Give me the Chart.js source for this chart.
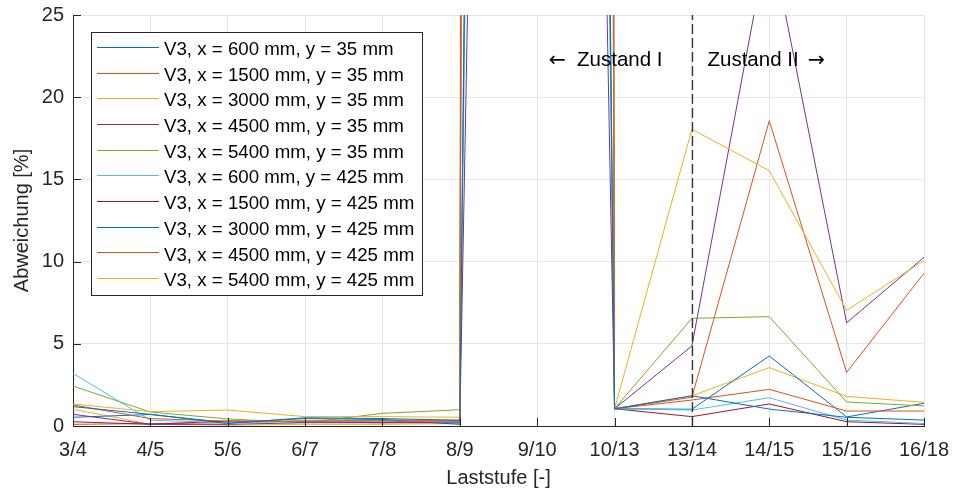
<!DOCTYPE html>
<html>
<head>
<meta charset="utf-8">
<script src="https://cdn.jsdelivr.net/npm/chart.js@4/dist/chart.umd.min.js"></script>
<style>
  html, body { margin: 0; padding: 0; background: #fff; }
  #wrap { width: 954px; height: 495px; }
</style>
</head>
<body>
<div id="wrap"><canvas id="c" width="954" height="495"></canvas></div>
<script>
// Abweichung je Laststufe, Messstellen V3
const LASTSTUFEN = ["3/4", "4/5", "5/6", "6/7", "7/8", "8/9", "9/10",
                    "10/13", "13/14", "14/15", "15/16", "16/18"];
const POS_X = [600, 1500, 3000, 4500, 5400, 600, 1500, 3000, 4500, 5400];
const POS_Y = [35, 35, 35, 35, 35, 425, 425, 425, 425, 425];
const COLORS = ["#0072BD", "#D95319", "#EDB120", "#7E2F8E", "#77AC30",
                "#4DBEEE", "#A2142F", "#0072BD", "#D95319", "#EDB120"];

// Werte in % (9/10 liegt weit ausserhalb der Achse)
const S1  = [1.18, 0.71, 0.15, 0.50, 0.45, 0.35,  420, 1.05,  1.84,  1.03, 0.53,  0.36];
const S2  = [1.28, 0.45, 0.30, 0.30, 0.30, 0.30, 2500, 1.05,  1.58,  2.23, 0.91,  0.91];
const S3  = [1.34, 0.87, 0.97, 0.57, 0.57, 0.53, 3000, 1.05, 18.05, 15.53, 7.04, 10.06];
const S4  = [0.71, 0.10, 0.10, 0.20, 0.20, 0.25,  250, 1.05,  4.87, 30.00, 6.28, 10.26];
const S5  = [2.43, 0.85, 0.43, 0.20, 0.77, 0.99, 2000, 1.05,  6.55,  6.65, 1.46,  1.22];
const S6  = [3.20, 0.35, 0.20, 0.30, 0.30, 0.20,  380, 1.05,  0.97,  1.72, 0.36,  0.15];
const S7  = [0.26, 0.10, 0.30, 0.25, 0.20, 0.20, 1500, 1.05,  0.57,  1.34, 0.26,  0.10];
const S8  = [0.53, 0.70, 0.20, 0.45, 0.40, 0.10,  450, 1.05,  1.02,  4.26, 0.55,  1.38];
const S9  = [0.10, 0.15, 0.20, 0.30, 0.35, 0.35, 2200, 1.05,  1.75, 18.57, 3.26,  9.29];
const S10 = [1.02, 0.10, 0.05, 0.10, 0.10, 0.15, 1800, 1.05,  1.84,  3.55, 1.80,  1.44];
const SERIES = [S1, S2, S3, S4, S5, S6, S7, S8, S9, S10];

const GRENZE = "13/14";          // Übergang Zustand I -> II
const FONT = "'Liberation Sans', Arial, Helvetica, sans-serif";
const AXIS = "#262626";

const datasets = SERIES.map((d, i) => ({
  label: `V3, x = ${POS_X[i]} mm, y = ${POS_Y[i]} mm`,
  data: d, borderColor: COLORS[i], backgroundColor: COLORS[i],
  borderWidth: 1, pointRadius: 0, tension: 0, fill: false,
}));

// inward tick marks like the MATLAB axes
const innerTicks = {
  id: "innerTicks",
  afterDraw(chart) {
    const { ctx, chartArea: a, scales: { x, y } } = chart;
    ctx.save();
    ctx.strokeStyle = AXIS;
    ctx.lineWidth = 1;
    ctx.beginPath();
    x.ticks.forEach((_t, i) => {
      const px = Math.round(x.getPixelForTick(i)) + 0.5;
      ctx.moveTo(px, a.bottom); ctx.lineTo(px, a.bottom - 8);
    });
    y.ticks.forEach((_t, i) => {
      const py = Math.round(y.getPixelForTick(i)) + 0.5;
      ctx.moveTo(a.left, py); ctx.lineTo(a.left + 8, py);
    });
    ctx.stroke();
    ctx.restore();
  },
};

// dashed boundary and the two state labels
const zustand = {
  id: "zustand",
  afterDatasetsDraw(chart) {
    const { ctx, chartArea: a, scales: { x, y } } = chart;
    const px = Math.round(x.getPixelForValue(LASTSTUFEN.indexOf(GRENZE))) + 0.5;
    ctx.save();
    ctx.strokeStyle = "#333";
    ctx.lineWidth = 1.3;
    ctx.setLineDash([10, 4]);
    ctx.beginPath();
    ctx.moveTo(px, a.bottom); ctx.lineTo(px, a.top);
    ctx.stroke();
    ctx.setLineDash([]);
    ctx.fillStyle = "#000";
    ctx.textBaseline = "alphabetic";
    const ty = y.getPixelForValue(21.9);
    const word = `20.5px ${FONT}`, arrow = "20.5px 'DejaVu Sans', sans-serif";
    // links: Pfeil + Text, rechtsbündig vor der Grenze
    ctx.font = word;
    ctx.textAlign = "right";
    ctx.fillText("Zustand I", px - 30, ty);
    const wI = ctx.measureText("Zustand I").width;
    ctx.font = arrow;
    ctx.fillText("\u2190", px - 30 - wI - 11, ty);
    // rechts: Text + Pfeil
    ctx.font = word;
    ctx.textAlign = "left";
    ctx.fillText("Zustand II", px + 15, ty);
    const wII = ctx.measureText("Zustand II").width;
    ctx.font = arrow;
    ctx.fillText("\u2192", px + 15 + wII + 9, ty);
    ctx.restore();
  },
};

// boxed legend inside the plot area, upper left
const boxLegend = {
  id: "boxLegend",
  afterDraw(chart) {
    const { ctx, chartArea: a } = chart;
    const x0 = a.left + 18, y0 = a.top + 17, w = 331, h = 263, row = 25.67;
    ctx.save();
    ctx.fillStyle = "#fff";
    ctx.fillRect(x0, y0, w, h);
    ctx.strokeStyle = AXIS;
    ctx.lineWidth = 1;
    ctx.strokeRect(x0 + 0.5, y0 + 0.5, w, h);
    ctx.font = `18.7px ${FONT}`;
    ctx.textBaseline = "middle";
    ctx.fillStyle = "#000";
    chart.data.datasets.forEach((ds, i) => {
      const cy = y0 + 18 + i * row;
      ctx.strokeStyle = ds.borderColor;
      ctx.lineWidth = 1.2;
      ctx.beginPath();
      ctx.moveTo(x0 + 6, Math.round(cy) - 2.5);
      ctx.lineTo(x0 + 68, Math.round(cy) - 2.5);
      ctx.stroke();
      ctx.fillText(ds.label, x0 + 73, cy);
    });
    ctx.restore();
  },
};

new Chart(document.getElementById("c"), {
  type: "line",
  data: { labels: LASTSTUFEN, datasets },
  plugins: [innerTicks, zustand, boxLegend],
  options: {
    responsive: false,
    animation: false,
    layout: { padding: { top: 15, right: 30, left: 0, bottom: 0 } },
    plugins: { legend: { display: false }, tooltip: { enabled: false } },
    scales: {
      x: {
        type: "category", offset: false,
        grid: { color: "#e6e6e6", drawTicks: false },
        border: { color: AXIS, width: 1 },
        ticks: { color: AXIS, font: { family: FONT, size: 20 }, padding: 12,
                 autoSkip: false, maxRotation: 0 },
        title: { display: true, text: "Laststufe [-]", color: AXIS,
                 font: { family: FONT, size: 20 }, padding: { top: 0, bottom: 5 } },
        afterFit: (s) => { s.height = 69; s.paddingLeft = 0; s.paddingRight = 0; },
      },
      y: {
        min: 0, max: 25,
        grid: { color: "#e6e6e6", drawTicks: false },
        border: { color: AXIS, width: 1 },
        ticks: { stepSize: 5, color: AXIS, font: { family: FONT, size: 20 }, padding: 9 },
        title: { display: true, text: "Abweichung [%]", color: AXIS,
                 font: { family: FONT, size: 20 }, padding: { top: 10, bottom: 0 } },
        afterFit: (s) => { s.width = 73; s.paddingTop = 0; s.paddingBottom = 0; },
      },
    },
  },
});
</script>
</body>
</html>
